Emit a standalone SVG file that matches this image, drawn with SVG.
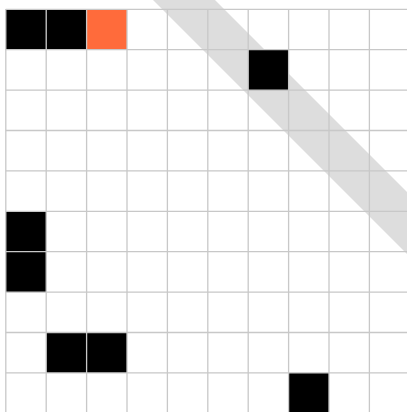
<svg xmlns="http://www.w3.org/2000/svg" width="407" height="412" viewBox="0 0 407 412">
<style>
.c{fill:#000}
.o{fill:#ff6b3b}
.g{stroke:#c8c8c8;stroke-width:1.3;fill:none}
</style>
<rect width="407" height="412" fill="#fff"/>
<polygon id="band" points="153,0 215,0 407,192 407,254" fill="#dddddd"/>
<g id="cells">
<rect class="c" x="5.8" y="9.3" width="40.4" height="40.4"/>
<rect class="c" x="46.2" y="9.3" width="40.4" height="40.4"/>
<rect class="o" x="86.6" y="9.3" width="40.4" height="40.4"/>
<rect class="c" x="248.2" y="49.7" width="40.4" height="40.4"/>
<rect class="c" x="5.8" y="211.3" width="40.4" height="40.4"/>
<rect class="c" x="5.8" y="251.7" width="40.4" height="40.4"/>
<rect class="c" x="46.2" y="332.5" width="40.4" height="40.4"/>
<rect class="c" x="86.6" y="332.5" width="40.4" height="40.4"/>
<rect class="c" x="288.6" y="372.9" width="40.4" height="40.4"/>
</g>
<g id="grid" class="g">
<path d="M5.8 9.3V412M46.2 9.3V412M86.6 9.3V412M127 9.3V412M167.4 9.3V412M207.8 9.3V412M248.2 9.3V412M288.6 9.3V412M329 9.3V412M369.4 9.3V412"/>
<path d="M5.8 9.3H407M5.8 49.7H407M5.8 90.1H407M5.8 130.5H407M5.8 170.9H407M5.8 211.3H407M5.8 251.7H407M5.8 292.1H407M5.8 332.5H407M5.8 372.9H407"/>
</g>
</svg>
